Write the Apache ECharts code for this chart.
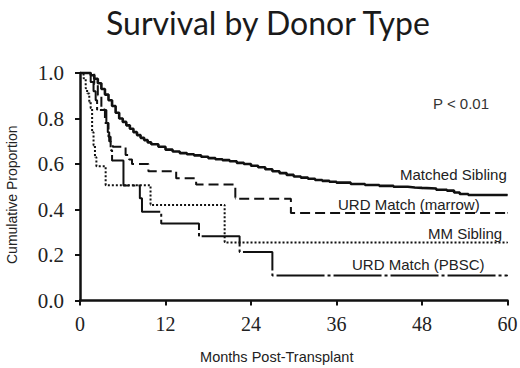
<!DOCTYPE html>
<html>
<head>
<meta charset="utf-8">
<style>
  html, body { margin: 0; padding: 0; background: #fff; }
  #main { width: 520px; height: 368px; }
</style>
</head>
<body>
<div id="main"></div>
<script src="https://cdn.jsdelivr.net/npm/echarts@6/dist/echarts.min.js"></script>
<script>
// Kaplan-Meier curves: [month, cumulative proportion]
var matchedSibling = [
  [0, 1], [1.0, 1], [1.5, 0.99], [2, 0.975], [2.5, 0.955], [3, 0.93], [3.5, 0.905],
  [4, 0.88], [4.5, 0.855], [5, 0.825], [5.5, 0.8], [6, 0.785], [6.5, 0.77], [7, 0.755],
  [7.5, 0.74], [8, 0.727], [8.5, 0.715], [9, 0.705], [9.5, 0.695], [10, 0.687],
  [11, 0.676], [12, 0.663], [13, 0.655], [14, 0.648], [15, 0.643], [16, 0.638],
  [17, 0.632], [18, 0.626], [19, 0.621], [20, 0.617], [21, 0.612], [22, 0.605],
  [23, 0.6], [24, 0.592], [25, 0.586], [26, 0.577], [27, 0.568], [28, 0.56],
  [29, 0.552], [30, 0.545], [31, 0.54], [32, 0.535], [33, 0.53], [34, 0.526],
  [35, 0.522], [36, 0.518], [38, 0.512], [40, 0.508], [42, 0.504], [44, 0.5],
  [46, 0.497], [47, 0.495], [48, 0.492], [50, 0.487], [51.5, 0.483], [52.5, 0.475],
  [53.3, 0.468], [54.5, 0.464], [60, 0.464]
];
var urdMarrow = [
  [0, 1], [1.5, 1], [2, 0.95], [2.5, 0.9], [3, 0.84], [3.5, 0.78], [4, 0.72],
  [4.3, 0.69], [4.6, 0.676], [6.4, 0.64], [6.9, 0.62], [7.3, 0.6], [9.6, 0.568],
  [13.5, 0.537], [16.3, 0.51], [21.8, 0.447], [29.6, 0.385], [60, 0.385]
];
var mmSibling = [
  [0, 1], [0.3, 1], [0.5, 0.977], [0.8, 0.933], [1.0, 0.91], [1.3, 0.87],
  [1.5, 0.845], [1.7, 0.74], [1.9, 0.68], [2.1, 0.63], [2.3, 0.59], [3.6, 0.507],
  [9.9, 0.42], [20.3, 0.255], [60, 0.255]
];
var urdPbsc = [
  [0, 1], [1.2, 1], [1.5, 0.96], [1.9, 0.92], [2.2, 0.88], [2.4, 0.837],
  [3.7, 0.78], [3.9, 0.74], [4.1, 0.7], [4.3, 0.66], [4.5, 0.615], [6.1, 0.505],
  [8.4, 0.449], [8.7, 0.39], [11.4, 0.339], [16.7, 0.282], [22.4, 0.213],
  [27, 0.11], [60, 0.11]
];

var seriesNames = ['Matched Sibling', 'URD Match (marrow)', 'MM Sibling', 'URD Match (PBSC)'];

// canvas renderer lost the axis lines once the symbols were hidden; try svg
var myChart = echarts.init(document.getElementById('main'), null, { renderer: 'svg' });

function kmSeries(name, data, width, type) {
  return {
    name: name,
    type: 'line',
    step: 'end',
    data: data,
    symbol: 'circle',
    symbolSize: 1,
    itemStyle: { color: '#111', borderWidth: 0 },
    clip: false,
    silent: true,
    lineStyle: { color: '#111', width: width, type: type }
  };
}

function label(text, x, y) {
  return {
    type: 'text',
    x: x,
    y: y,
    style: {
      text: text,
      fill: '#222',
      fontSize: 15,
      fontFamily: 'Liberation Sans',
      align: 'left',
      verticalAlign: 'middle'
    }
  };
}

myChart.setOption({
  animation: false,
  title: {
    text: 'Survival by Donor Type',
    left: 101,
    top: 1,
    textStyle: { fontFamily: 'Lato', fontSize: 32, fontWeight: 'normal', color: '#1a1a1a' }
  },
  grid: { left: 80, right: 12.5, top: 73, bottom: 67.5, outerBoundsMode: 'none' },
  xAxis: {
    type: 'value',
    min: 0,
    max: 60,
    interval: 12,
    name: 'Months Post-Transplant',
    nameLocation: 'middle',
    nameGap: 49,
    nameTextStyle: { fontFamily: 'Liberation Sans', fontSize: 14.5, color: '#222', padding: [0, 34, 0, 0] },
    axisLine: { show: true, onZero: false, lineStyle: { color: '#111', width: 2.5 } },
    axisTick: { show: true, length: 5, lineStyle: { color: '#111', width: 2 } },
    axisLabel: {
      margin: 13,
      fontFamily: 'Liberation Serif',
      fontSize: 20,
      color: '#222'
    },
    splitLine: { show: false }
  },
  yAxis: {
    type: 'value',
    min: 0,
    max: 1,
    interval: 0.2,
    name: 'Cumulative Proportion',
    nameLocation: 'middle',
    nameGap: 61,
    nameTextStyle: { fontFamily: 'Liberation Sans', fontSize: 14, color: '#222', padding: [0, 16, 0, 0] },
    axisLine: { show: true, onZero: false, lineStyle: { color: '#111', width: 2.5 } },
    axisTick: { show: true, length: 5, lineStyle: { color: '#111', width: 2 } },
    axisLabel: {
      margin: 16,
      fontFamily: 'Liberation Serif',
      fontSize: 21,
      color: '#222',
      formatter: function (v) { return v.toFixed(1); }
    },
    splitLine: { show: false }
  },
  graphic: [
    {
      type: 'text',
      x: 461,
      y: 103,
      style: {
        text: 'P < 0.01',
        fill: '#333',
        fontSize: 15,
        fontFamily: 'Liberation Sans',
        align: 'center',
        verticalAlign: 'middle'
      }
    },
    label(seriesNames[0], 400, 174),
    label(seriesNames[1], 338, 204),
    label(seriesNames[2], 428, 233),
    label(seriesNames[3], 352, 264)
  ],
  series: [
    kmSeries(seriesNames[0], matchedSibling, 2.6, 'solid'),
    kmSeries(seriesNames[1], urdMarrow, 2, [10, 5]),
    kmSeries(seriesNames[2], mmSibling, 2, [2, 2]),
    kmSeries(seriesNames[3], urdPbsc, 2, [48, 3, 3, 3])
  ]
});
</script>
</body>
</html>
